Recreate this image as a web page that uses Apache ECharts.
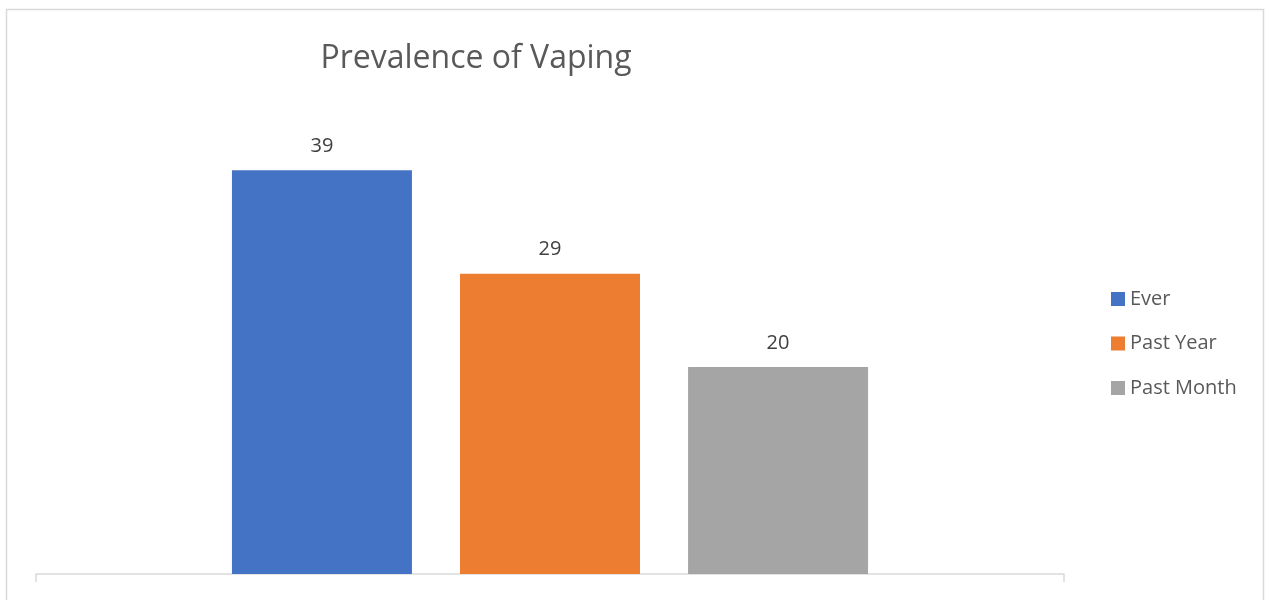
<!DOCTYPE html>
<html>
<head>
<meta charset="utf-8">
<title>Prevalence of Vaping</title>
<script src="https://cdn.jsdelivr.net/npm/echarts@6/dist/echarts.min.js"></script>
<style>
  html, body { margin: 0; padding: 0; background: #ffffff; }
  #chart { width: 1265px; height: 600px; }
</style>
</head>
<body>
<div id="chart"></div>
<script>
// Survey result: share of respondents who have vaped, by time frame
const categories = ['Prevalence'];
const seriesNames = ['Ever', 'Past Year', 'Past Month'];
const seriesValues = [39, 29, 20];
const seriesColors = ['#4472C4', '#ED7D31', '#A5A5A5'];
const chartTitle = 'Prevalence of Vaping';

const FONT = '"Open Sans", "Noto Sans", sans-serif';

const chart = echarts.init(document.getElementById('chart'));

const series = seriesNames.map((name, i) => ({
  name: name,
  type: 'bar',
  data: [seriesValues[i]],
  barWidth: 180,
  barGap: '26.7%',
  itemStyle: { color: seriesColors[i] },
  label: {
    show: true,
    position: 'top',
    distance: 14,
    color: '#404040',
    fontSize: 20,
    fontFamily: FONT
  }
}));

chart.setOption({
  animation: false,
  backgroundColor: '#ffffff',
  grid: { left: 36, width: 1028, top: 108, bottom: 26, containLabel: false },
  xAxis: {
    type: 'category',
    data: categories,
    axisLine: { show: true, lineStyle: { color: '#d9d9d9', width: 1.5 } },
    axisTick: { show: true, length: 8, alignWithLabel: false, lineStyle: { color: '#d9d9d9', width: 1.5 } },
    axisLabel: { show: false }
  },
  yAxis: {
    type: 'value',
    min: 0,
    max: 45,
    show: false,
    splitLine: { show: false }
  },
  legend: {
    orient: 'vertical',
    left: 1106,
    top: 284,
    icon: 'rect',
    itemWidth: 14,
    itemHeight: 14,
    itemGap: 24.5,
    data: seriesNames,
    textStyle: { color: '#595959', fontSize: 20, lineHeight: 20, fontFamily: FONT }
  },
  graphic: [
    {
      type: 'rect',
      shape: { x: 6.5, y: 9.5, width: 1257, height: 620 },
      style: { fill: 'none', stroke: '#d9d9d9', lineWidth: 1.5 },
      silent: true
    },
    {
      type: 'text',
      x: 476,
      y: 59,
      style: {
        text: chartTitle,
        fill: '#595959',
        font: '32px ' + FONT,
        textAlign: 'center',
        textVerticalAlign: 'middle'
      },
      silent: true
    }
  ],
  series: series
});
</script>
</body>
</html>
